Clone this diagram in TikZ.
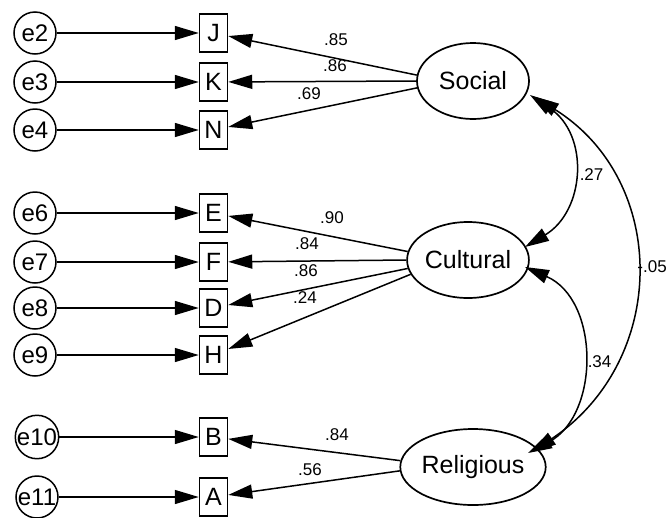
\documentclass[tikz,border=0pt]{standalone}
\usepackage{fontspec}
\setmainfont{Liberation Sans}
\usetikzlibrary{shapes.geometric,arrows.meta}
\begin{document}
\begin{tikzpicture}[x=1pt,y=-1pt,line width=1.5pt,
 errnode/.style={circle,draw,minimum size=42pt,inner sep=0pt,font=\fontsize{24}{24}\selectfont},
 obsbox/.style={rectangle,draw,minimum width=28pt,minimum height=38pt,inner sep=0pt,font=\fontsize{25}{25}\selectfont},
 latent/.style={ellipse,draw,line width=1.7pt,minimum width=112pt,minimum height=76pt,inner sep=0pt,font=\fontsize{25}{25}\selectfont},
 coef/.style={font=\fontsize{17}{17}\selectfont,inner sep=0pt},
 arr/.style={-{Triangle[length=24pt,width=14pt]}},
 darr/.style={{Triangle[length=24pt,width=14pt]}-{Triangle[length=24pt,width=14pt]}}]
\useasboundingbox (0,0) rectangle (668,517);
% error terms
\node[errnode] (e2) at (35,33) {e2};
\node[errnode] (e3) at (35,82) {e3};
\node[errnode] (e4) at (35,130) {e4};
\node[errnode] (e6) at (35,213) {e6};
\node[errnode] (e7) at (35,262) {e7};
\node[errnode] (e8) at (35,308) {e8};
\node[errnode] (e9) at (35,355) {e9};
\node[errnode] (e10) at (37,437) {e10};
\node[errnode] (e11) at (37,497) {e11};
% observed
\node[obsbox] (J) at (213.5,33) {J};
\node[obsbox] (K) at (213.5,82) {K};
\node[obsbox] (N) at (213.5,130) {N};
\node[obsbox] (E) at (213.5,213) {E};
\node[obsbox] (F) at (213.5,262) {F};
\node[obsbox] (D) at (213.5,308) {D};
\node[obsbox] (H) at (213.5,355) {H};
\node[obsbox] (B) at (213.5,437) {B};
\node[obsbox] (A) at (213.5,497) {A};
% latent
\node[latent] (Social) at (473,81) {Social};
\node[latent] (Cultural) at (468,260) {Cultural};
\node[latent] (Religious) at (473,467) {Religious};
% error arrows
\foreach \e/\o in {e2/J,e3/K,e4/N,e6/E,e7/F,e8/D,e9/H,e10/B,e11/A}
  \draw[arr] (\e) -- (\o);
% loadings
\draw[arr] (Social.174) -- (J);
\draw[arr] (Social.180) -- (K);
\draw[arr] (Social.187) -- (N);
\draw[arr] (Cultural.172) -- (E);
\draw[arr] (Cultural.180) -- (F);
\draw[arr] (Cultural.188) -- (D);
\draw[arr] (Cultural.194) -- (H);
\draw[arr] (Religious.175) -- (B);
\draw[arr] (Religious.183) -- (A);
\node[coef] (l1) at (336,40) {.85};
\node[coef] (l2) at (335,66) {.86};
\node[coef] (l3) at (309,94) {.69};
\node[coef] (l4) at (332,218) {.90};
\node[coef] (l5) at (307,244) {.84};
\node[coef] (l6) at (306,271) {.86};
\node[coef] (l7) at (305,298) {.24};
\node[coef] (l8) at (337,435) {.84};
\node[coef] (l9) at (310,470) {.56};
% covariances
\coordinate (s1) at (530,95);
\coordinate (c1) at (525,247);
\coordinate (c2) at (525,267);
\coordinate (r1) at (528,453);
\coordinate (s2) at (535,97);
\coordinate (r2) at (532,452);
\draw[darr] (s1) .. controls (590,135) and (585,211) .. (c1);
\draw[darr] (c2) .. controls (600,300) and (600,415) .. (r1);
\draw[darr] (s2) .. controls (669,181) and (669,360) .. (r2);
\node[coef,anchor=west] (k1) at (579,175) {.27};
\node[coef,anchor=west] (k2) at (587,362) {.34};
\node[coef,anchor=east] (k3) at (667.5,267) {-.05};
\end{tikzpicture}
\end{document}
